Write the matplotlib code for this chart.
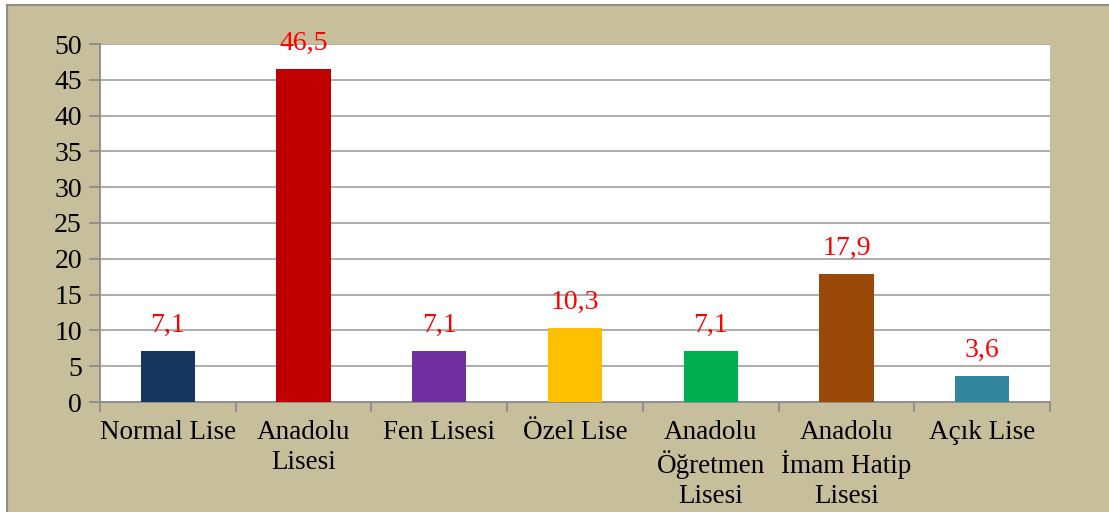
import matplotlib.pyplot as plt
from matplotlib.patches import Rectangle
import numpy as np

# data
categories = ['Normal Lise', 'Anadolu\nLisesi', 'Fen Lisesi', 'Özel Lise',
              'Anadolu\nÖğretmen\nLisesi', 'Anadolu\nİmam Hatip\nLisesi', 'Açık Lise']
values = [7.1, 46.5, 7.1, 10.3, 7.1, 17.9, 3.6]
bar_colors = ['#17375E', '#C00000', '#7030A0', '#FFC000', '#00B050', '#984807', '#31859C']

plt.rcParams['font.family'] = ['Liberation Serif', 'DejaVu Serif']

fig = plt.figure(figsize=(11.09, 5.12), dpi=100, facecolor='white')

# beige frame behind the chart
fig.patches.append(Rectangle((7 / 1109, -0.05), 1.1, 1.05 - 5 / 512,
                             transform=fig.transFigure, facecolor='#C7BF9C',
                             edgecolor='#8C8C8C', linewidth=1.5, zorder=-10))

ax = fig.add_axes([100 / 1109, 1 - 402 / 512, 950 / 1109, 358 / 512])
ax.set_facecolor('white')

x = np.arange(len(categories))
bars = ax.bar(x, values, width=0.40, color=bar_colors, zorder=3)

for xi, v in zip(x, values):
    ax.text(xi, v + 2.7, f'{v:.1f}'.replace('.', ','), ha='center', va='baseline',
            color='#FF0000', fontsize=20)

ax.set_xlim(-0.5, len(categories) - 0.5)
ax.set_ylim(0, 50)
ax.set_yticks(range(0, 51, 5))
ax.yaxis.grid(True, color='#A6A6A6', linewidth=1.3, zorder=0)
ax.set_axisbelow(True)

ax.set_xticks(x)
ax.set_xticklabels(categories, fontsize=19.5, linespacing=1.24)
ax.set_xticks(np.arange(-0.5, len(categories), 1), minor=True)
ax.tick_params(axis='x', which='major', length=0, pad=13)
ax.tick_params(axis='x', which='minor', length=7, color='#8C8C8C', width=1.3, direction='out')
ax.tick_params(axis='y', length=8, color='#8C8C8C', width=1.3, labelsize=20, pad=5)

for side in ['top', 'right']:
    ax.spines[side].set_visible(False)
for side in ['left', 'bottom']:
    ax.spines[side].set_color('#8C8C8C')
    ax.spines[side].set_linewidth(1.3)

plt.savefig('out.png', dpi=100, facecolor=fig.get_facecolor())
